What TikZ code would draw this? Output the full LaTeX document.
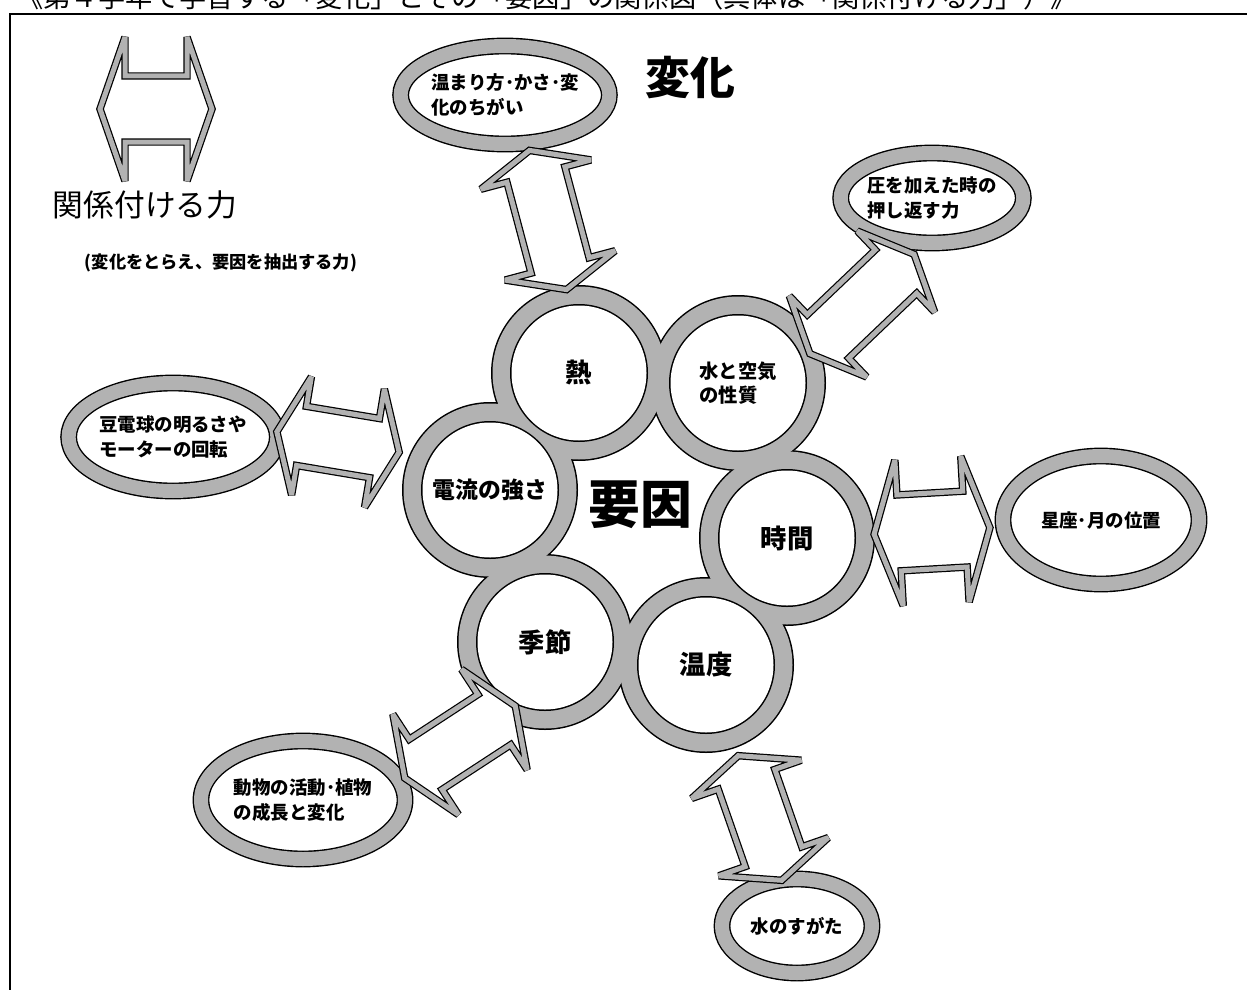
\documentclass[tikz,border=0pt]{standalone}
\usepackage{fontspec}
\setmainfont{Noto Sans CJK JP}
\usetikzlibrary{shapes.geometric,backgrounds,calc}
\tikzset{
  factor/.style={circle, minimum size=174*0.02cm, inner sep=0pt, align=left,
    font=\bfseries\fontsize{15}{18}\selectfont},
  change/.style={ellipse, draw=black, line width=0.8pt, double=gray!60,
    double distance=14*0.02cm, fill=white, inner sep=0pt, align=left,
    font=\bfseries\fontsize{10.5}{14.5}\selectfont},
  blockarrow/.style={draw=black, line width=0.7pt, double=gray!60,
    double distance=5*0.02cm, fill=white, line join=miter, miter limit=4},
  frameline/.style={line width=1.2pt},
  plain/.style={inner sep=0pt},
}
\newcommand\arrowpath[4]{(-#1,0) -- (-#1+#4,#2) -- (-#1+#4,#3) -- (#1-#4,#3) -- (#1-#4,#2) -- (#1,0) -- (#1-#4,-#2) -- (#1-#4,-#3) -- (-#1+#4,-#3) -- (-#1+#4,-#2) -- cycle}
% from, to, centre x, centre y, half length, half head width, half shaft width
\newcommand\barrow[7]{%
  \pgfmathanglebetweenpoints{\pgfpointanchor{#1}{center}}{\pgfpointanchor{#2}{center}}%
  \let\barang\pgfmathresult
  \begin{scope}[shift={(#3,#4)}, rotate=\barang]
    \draw[blockarrow] \arrowpath{#5}{#6}{#7}{25};
  \end{scope}}
\begin{document}
\begin{tikzpicture}[x=0.02cm,y=-0.02cm]
\useasboundingbox (0,0) rectangle (1247,990);
% title, cut at the top edge
\begin{scope}
  \clip (0,0) rectangle (1247,13);
  \node[plain, anchor=west, font=\fontsize{15.5}{18}\selectfont] (title) at (16,-3)
    {《第４学年で学習する「変化」とその「要因」の関係図（具体は「関係付ける力」）》};
\end{scope}
\draw[frameline] (10,990) -- (10,14) -- (1247,14);

% legend
\begin{scope}[shift={(156,109)}]
  \draw[blockarrow] \arrowpath{56}{72}{33}{25};
\end{scope}
\node[plain, font=\fontsize{17.5}{20}\selectfont] (legend) at (145,205) {関係付ける力};
\node[plain, font=\bfseries\fontsize{9.8}{12}\selectfont] (legendsub) at (221,263) {(変化をとらえ、要因を抽出する力)};
\node[plain, font=\bfseries\fontsize{25.5}{28}\selectfont] (change) at (690,78) {変化};

% factor circles
\node[factor] (heat) at (579,373) {熱};
\node[factor, font=\bfseries\fontsize{11}{14}\selectfont] (water) at (738,383) {水と空気\\の性質};
\node[factor, font=\bfseries\fontsize{13}{16}\selectfont] (current) at (490,490) {電流の強さ};
\node[factor] (time) at (787,538) {時間};
\node[factor] (temp) at (706,665) {温度};
\node[factor] (season) at (545,642) {季節};
\node[plain, font=\bfseries\fontsize{29.5}{32}\selectfont] (cause) at (640,505) {要因};

\begin{scope}[on background layer]
  \foreach \n in {heat,water,current,time,temp,season} \fill[black] (\n.center) circle (88);
  \foreach \n in {heat,water,current,time,temp,season} \fill[gray!60] (\n.center) circle (86.5);
  \foreach \n in {heat,water,current,time,temp,season} \fill[black] (\n.center) circle (69);
  \foreach \n in {heat,water,current,time,temp,season} \fill[white] (\n.center) circle (67.5);
\end{scope}

% change ellipses
\node[change, minimum width=176*0.02cm, minimum height=98*0.02cm] (e1) at (505,95) {温まり方･かさ･変\\化のちがい};
\node[change, minimum width=164*0.02cm, minimum height=90*0.02cm] (e2) at (932,198) {圧を加えた時の\\押し返す力};
\node[change, minimum width=208*0.02cm, minimum height=108*0.02cm] (e3) at (173,437) {豆電球の明るさや\\モーターの回転};
\node[change, minimum width=196*0.02cm, minimum height=128*0.02cm] (e4) at (1101,520) {星座･月の位置};
\node[change, minimum width=204*0.02cm, minimum height=118*0.02cm] (e5) at (303,800) {動物の活動･植物\\の成長と変化};
\node[change, minimum width=150*0.02cm, minimum height=94*0.02cm] (e6) at (797,926) {水のすがた};

% block arrows
\barrow{heat}{e1}{548}{220}{72}{57}{30}
\barrow{water}{e2}{862}{304}{72}{56}{30}
\barrow{current}{e3}{338}{442}{62}{60}{30}
\barrow{time}{e4}{932}{531}{58}{73}{38}
\barrow{season}{e5}{460}{742}{66}{60}{30}
\barrow{temp}{e6}{760}{818}{66}{58}{30}
\end{tikzpicture}
\end{document}
